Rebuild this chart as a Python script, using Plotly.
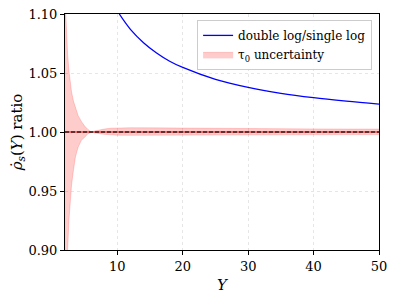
import plotly.graph_objects as go

# Blue curve: double log / single log ratio
y_ratio = [10.3, 12, 14, 16, 18, 20, 25, 30, 35, 40, 45, 50]
ratio_vals = [1.100, 1.087, 1.0757, 1.067, 1.060, 1.0547, 1.0446, 1.0378, 1.0328, 1.0291, 1.0262, 1.0237]

# tau_0 uncertainty band
y_band = [2.0, 2.2, 2.4, 2.6, 2.8, 3.0, 3.3, 3.6, 4.0, 4.5, 5.0, 5.5, 6.0, 6.5, 7.0, 8, 9, 10,
          12, 15, 20, 25, 30, 35, 40, 45, 50]
band_upper = [1.115, 1.089, 1.066, 1.052, 1.042, 1.034, 1.026, 1.020, 1.014, 1.009, 1.005, 1.0022,
              1.0000, 1.0008, 1.0015, 1.0025, 1.0032, 1.0035, 1.0036, 1.0035, 1.0032, 1.0030,
              1.0028, 1.0027, 1.0026, 1.0025, 1.0025]
band_lower = [0.78, 0.85, 0.90, 0.925, 0.944, 0.955, 0.968, 0.979, 0.987, 0.993, 0.9955, 0.9985,
              1.0000, 0.9993, 0.9988, 0.9980, 0.9975, 0.9973, 0.9972, 0.9973, 0.9975, 0.9976,
              0.9977, 0.9977, 0.9978, 0.9978, 0.9978]

ref_x = [2, 50]
ref_y = [1.0, 1.0]

x_ticks = [10, 20, 30, 40, 50]
y_ticks = [0.90, 0.95, 1.00, 1.05, 1.10]

FONT = "DejaVu Serif"

fig = go.Figure()

fig.add_trace(go.Scatter(x=y_band, y=band_lower, mode="lines",
                         line=dict(color="rgba(255,0,0,0.22)", width=0.8),
                         showlegend=False, hoverinfo="skip"))
fig.add_trace(go.Scatter(x=y_band, y=band_upper, mode="lines", fill="tonexty",
                         fillcolor="rgba(255,0,0,0.2)",
                         line=dict(color="rgba(255,0,0,0.22)", width=0.8),
                         name="τ<sub>0</sub> uncertainty", legendrank=2))
fig.add_trace(go.Scatter(x=ref_x, y=ref_y, mode="lines",
                         line=dict(color="rgba(230,40,40,0.8)", width=1.3),
                         showlegend=False, hoverinfo="skip"))
fig.add_trace(go.Scatter(x=ref_x, y=ref_y, mode="lines",
                         line=dict(color="#3a1c1c", width=1.3, dash="4px,2px"),
                         showlegend=False, hoverinfo="skip"))
fig.add_trace(go.Scatter(x=y_ratio, y=ratio_vals, mode="lines",
                         line=dict(color="#0000ff", width=1.3, shape="spline"),
                         name="double log/single log", legendrank=1))

axis_common = dict(showline=True, mirror=True, linecolor="black", linewidth=1,
                   ticks="outside", ticklen=4, tickcolor="black",
                   showgrid=True, gridcolor="#e6e6e6", griddash="dot", gridwidth=0.8,
                   zeroline=False, ticklabeloverflow="allow", automargin=False,
                   tickfont=dict(family=FONT, size=13, color="black"))

fig.update_xaxes(range=[2, 50], tickvals=x_ticks, ticktext=[str(v) for v in x_ticks],
                 title=dict(text="<i>Y</i>", font=dict(family=FONT, size=15, color="black"),
                            standoff=6),
                 **axis_common)
fig.update_yaxes(range=[0.90, 1.10], tickvals=y_ticks, ticktext=[f"{v:.2f}" for v in y_ticks],
                 title=dict(text="<i>ρ\u0307</i><sub><i>s</i></sub>(<i>Y</i>) ratio",
                            font=dict(family=FONT, size=15, color="black"), standoff=10),
                 **axis_common)

fig.update_layout(
    width=387, height=296,
    margin=dict(l=57, r=16, t=6, b=54),
    plot_bgcolor="white", paper_bgcolor="white",
    font=dict(family=FONT, size=13, color="black"),
    legend=dict(x=0.978, y=0.975, xanchor="right", yanchor="top", traceorder="normal",
                bgcolor="rgba(255,255,255,0.9)", bordercolor="#cccccc", borderwidth=1,
                font=dict(family=FONT, size=12), tracegroupgap=0, itemwidth=30),
    showlegend=True,
)

fig.write_html("out.html")
